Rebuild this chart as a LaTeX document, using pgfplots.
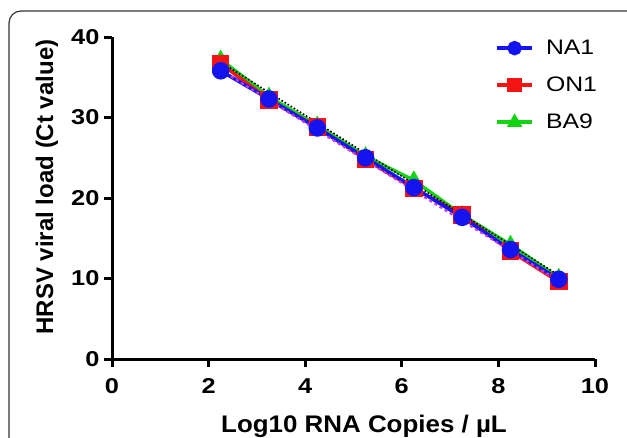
\documentclass[border=0pt]{standalone}
\usepackage{fontspec}
\setmainfont{Liberation Sans}
\usepackage{pgfplots}
\pgfplotsset{compat=1.18}
\definecolor{serblue}{RGB}{20,20,240}
\definecolor{serred}{RGB}{245,20,20}
\definecolor{sergreen}{RGB}{20,210,20}
\definecolor{regpurple}{RGB}{190,60,220}
\newfontfamily\widefont[FakeStretch=1.18]{Liberation Sans}
\newfontfamily\labelfont[FakeStretch=1.08]{Liberation Sans}
\begin{document}
\begin{tikzpicture}[x=1pt,y=1pt]
\begin{axis}[
  at={(112pt,78pt)}, anchor=origin,
  scale only axis, width=483pt, height=322pt,
  xmin=0, xmax=10, ymin=0, ymax=40,
  xtick={0,2,4,6,8,10}, ytick={0,10,20,30,40},
  axis x line=bottom, axis y line=left,
  axis line style={line width=3pt,-},
  tick style={line width=3pt,black},
  major tick length=8pt, tick align=outside,
  tick label style={font=\fontsize{21.5}{24}\selectfont\widefont\bfseries},
  xticklabel style={yshift=-8pt},
  yticklabel style={xshift=-1pt},
  /pgf/number format/assume math mode=true,
  clip=false,
  legend style={draw=none, fill=none, at={(0.793,0.997)}, anchor=north west,
    font=\fontsize{21}{24}\selectfont\widefont, row sep=17pt, inner sep=0pt,
    nodes={inner sep=2pt}},
  legend cell align=left,
  reverse legend,
  legend image code/.code={\draw[#1,line width=3.8pt] (0pt,0pt) -- (35pt,0pt);
    \draw[#1,mark repeat=1,mark size=5.5pt] plot coordinates {(17.5pt,0pt)};},
]
\addplot[sergreen, line width=3.5pt, mark=triangle*, mark size=6.5pt, mark options={solid}]
  coordinates {(2.25,37.2) (3.25,32.6) (4.25,29.0) (5.25,25.2) (6.25,22.2) (7.25,17.9) (8.25,14.2) (9.25,10.1)};
\addlegendentry{\hspace{10pt}BA9}
\addplot[serred, line width=3.5pt, mark=square*, mark size=7pt]
  coordinates {(2.25,36.7) (3.25,32.2) (4.25,28.8) (5.25,24.8) (6.25,21.2) (7.25,17.9) (8.25,13.4) (9.25,9.6)};
\addlegendentry{\hspace{10pt}ON1}
\addplot[serblue, line width=3.5pt, mark=*, mark size=7pt]
  coordinates {(2.25,35.8) (3.25,32.3) (4.25,28.7) (5.25,25.0) (6.25,21.3) (7.25,17.6) (8.25,13.6) (9.25,9.9)};
\addlegendentry{\hspace{10pt}NA1}
\addplot[black, line width=1.6pt, dotted, forget plot]
  coordinates {(2.25,36.9) (9.25,10.4)};
\addplot[regpurple, line width=2.2pt, dashed, forget plot]
  coordinates {(2.25,35.9) (9.25,9.7)};
\end{axis}
\node[font=\fontsize{24}{28}\selectfont\labelfont\bfseries, anchor=base] at (364pt,5pt) {Log10 RNA Copies / µL};
\node[font=\fontsize{24}{28}\selectfont\bfseries, rotate=90] at (47pt,250pt) {HRSV viral load (Ct value)};
\draw[line width=1.2pt, black!80, rounded corners=12pt] (9pt,-20pt) -- (9pt,426pt) -- (650pt,426pt);
\pgfresetboundingbox
\path[use as bounding box] (0pt,0pt) rectangle (627pt,437pt);
\end{tikzpicture}
\end{document}
